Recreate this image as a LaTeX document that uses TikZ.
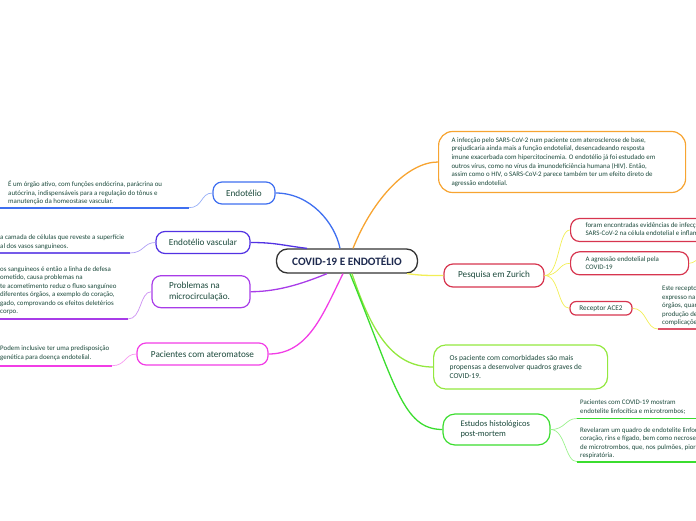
\documentclass[tikz,border=0pt]{standalone}
\usepackage{fontspec}
\setmainfont{Carlito}
\usepackage{xcolor}
\definecolor{textgreen}{HTML}{1C4A3C}
\definecolor{titlenavy}{HTML}{1E2A4F}
\definecolor{titleborder}{HTML}{333333}
\definecolor{mainblue}{HTML}{3F6FF0}
\definecolor{lightblue}{HTML}{96AEF7}
\definecolor{mainindigo}{HTML}{5232E3}
\definecolor{lightindigo}{HTML}{B0A0F5}
\definecolor{mainpurple}{HTML}{A83CE8}
\definecolor{lightpurple}{HTML}{CC90F2}
\definecolor{mainmagenta}{HTML}{F23DE6}
\definecolor{lightmagenta}{HTML}{F79AF0}
\definecolor{mainorange}{HTML}{F7A431}
\definecolor{mainred}{HTML}{D7354F}
\definecolor{mainyellow}{HTML}{F2EE55}
\definecolor{mainlime}{HTML}{93E83F}
\definecolor{maingreen}{HTML}{3BDD2F}
\definecolor{lightgreen}{HTML}{9CF28E}

\begin{document}
\begin{tikzpicture}[x=1pt, y=-1pt,
    topic/.style={draw, line width=1.2pt, rounded corners=9pt, fill=white, text=textgreen,
        font=\fontsize{9.2}{10.5}\selectfont, inner sep=0pt},
    leaf/.style={draw, line width=1.2pt, rounded corners=9pt, fill=white, text=textgreen,
        font=\fontsize{6.9}{8.3}\selectfont, align=flush left, anchor=west, inner ysep=0pt},
    note/.style={anchor=west, inner sep=0pt, text=textgreen,
        font=\fontsize{6.9}{8.5}\selectfont, align=left},
    branch/.style={line width=1.3pt},
    twig/.style={line width=0.7pt},
    underl/.style={line width=1.6pt}]

    \useasboundingbox (0,0) rectangle (696,520);
    \clip (0,0) rectangle (696,520);

    % central topic
    \node[topic, draw=titleborder, text=titlenavy, line width=1.3pt, rounded corners=11pt,
        font=\bfseries\fontsize{11.3}{13}\selectfont, minimum width=141pt, minimum height=24pt]
        (title) at (347,261) {COVID-19 E ENDOTÉLIO};

    % left branches
    \node[topic, draw=mainblue, minimum width=62pt, minimum height=22pt] (endotelio) at (244,193) {Endotélio};
    \node[topic, draw=mainindigo, minimum width=94pt, minimum height=22pt] (endvasc) at (203,242.5) {Endotélio vascular};
    \node[topic, draw=mainpurple, minimum height=32pt, inner xsep=17pt, text width=64pt, align=flush left]
        (micro) at (201,291.7) {Problemas na\\microcirculação.};
    \node[topic, draw=mainmagenta, minimum width=131pt, minimum height=22pt] (ateroma) at (202.5,354) {Pacientes com ateromatose};

    \node[note] (funcao) at (8,192.7) {É um órgão ativo, com funções endócrina, parácrina ou\\autócrina, indispensáveis para a regulação do tônus e\\manutenção da homeostase vascular.};
    \node[note] (camada) at (0,242) {a camada de células que reveste a superfície\\al dos vasos sanguíneos.};
    \node[note] (defesa) at (0,290.7) {os sanguíneos é então a linha de defesa\\ometido, causa problemas na\\te acometimento reduz o fluxo sanguíneo\\diferentes órgãos, a exemplo do coração,\\gado, comprovando os efeitos deletérios\\corpo.};
    \node[note] (predisp) at (0,353.3) {Podem inclusive ter uma predisposição\\genética para doença endotelial.};

    \coordinate (funcaoL) at (0,207.7);
    \coordinate (funcaoR) at (189,207.7);
    \coordinate (camadaL) at (0,253);
    \coordinate (camadaR) at (130,253);
    \coordinate (defesaL) at (0,319);
    \coordinate (defesaR) at (128,319);
    \coordinate (predispL) at (0,365.7);
    \coordinate (predispR) at (112,365.7);

    % right branches
    \node[leaf, draw=mainorange, rounded corners=14pt, inner xsep=13pt, text width=221pt, minimum height=61pt,
        font=\fontsize{6.9}{8.7}\selectfont] (infeccao) at (438,162)
        {A infecção pelo SARS-CoV-2 num paciente com aterosclerose de base,\\prejudicaria ainda mais a função endotelial, desencadeando resposta\\imune exacerbada com hipercitocinemia. O endotélio já foi estudado em\\outros vírus, como no vírus da imunodeficiência humana (HIV). Então,\\assim como o HIV, o SARS-CoV-2 parece também ter um efeito direto de\\agressão endotelial.};

    \node[topic, draw=mainred, minimum width=100pt, minimum height=23pt] (zurich) at (494,275.5) {Pesquisa em Zurich};
    \node[leaf, draw=mainred, inner xsep=15pt, minimum height=23pt, align=left] (evidencias) at (570,230)
        {foram encontradas evidências de infecção pelo\\SARS-CoV-2 na célula endotelial e inflamação};
    \node[leaf, draw=mainred, inner xsep=15pt, text width=88pt, minimum height=23pt] (agressao) at (570,263.3)
        {A agressão endotelial pela\\COVID-19};
    \node[topic, draw=mainred, font=\fontsize{7.2}{8}\selectfont, minimum width=62pt, minimum height=13.5pt,
        rounded corners=6pt] (receptor) at (601,308.3) {Receptor ACE2};
    \node[note] (expresso) at (662,306) {Este receptor\\expresso na\\órgãos, quando\\produção de\\complicações};
    \coordinate (expressoL) at (658,329);
    \coordinate (expressoR) at (700,329);
    \coordinate (agressaoT) at (700,259);

    \node[leaf, draw=mainlime, rounded corners=12pt, inner xsep=16pt, text width=142pt, minimum height=44pt,
        font=\fontsize{7.5}{8.6}\selectfont] (comorb) at (433,367)
        {Os paciente com comorbidades são mais\\propensas a desenvolver quadros graves de\\COVID-19.};

    \node[topic, draw=maingreen, inner xsep=17.5pt, text width=72pt, align=flush left, minimum height=31pt,
        rounded corners=12pt, font=\fontsize{8.5}{10}\selectfont] (estudos) at (496.5,429.5)
        {Estudos histológicos\\post-mortem};
    \node[note] (mostram) at (580,407) {Pacientes com COVID-19 mostram\\endotelite linfocítica e microtrombos;};
    \node[note] (revelaram) at (580,443.4) {Revelaram um quadro de endotelite linfocítica\\coração, rins e fígado, bem como necrose\\de microtrombos, que, nos pulmões, piora\\respiratória.};
    \coordinate (mostramL) at (577,418.5);
    \coordinate (mostramR) at (700,418.5);
    \coordinate (revelaramL) at (577,461.7);
    \coordinate (revelaramR) at (700,461.7);

    % connectors from the centre
    \draw[branch, mainblue] (endotelio.east) .. controls +(35,0) and +(-5,-25) .. ([xshift=-7pt]title.north);
    \draw[branch, mainindigo] (endvasc.east) .. controls +(25,0) and +(-25,-3) .. ([xshift=-40pt]title.north);
    \draw[branch, mainpurple] (micro.east) .. controls +(30,0) and +(-20,8) .. ([xshift=-20pt]title.south);
    \draw[branch, mainmagenta] (ateroma.east) .. controls +(40,0) and +(-20,40) .. ([xshift=-4pt]title.south);
    \draw[branch, mainorange] ([xshift=6pt]title.north) .. controls +(20,-50) and +(-30,0) .. (infeccao.west);
    \draw[branch, mainyellow] ([xshift=60pt]title.south) .. controls +(15,2) and +(-15,0) .. (zurich.west);
    \draw[branch, mainlime] ([xshift=5pt]title.south) .. controls +(20,60) and +(-40,0) .. (comorb.west);
    \draw[branch, maingreen] ([xshift=3pt]title.south) .. controls +(45,110) and +(-40,0) .. (estudos.west);

    % left notes
    \draw[twig, lightblue] (funcaoR) .. controls +(14,0) and +(-12,0) .. (endotelio.west);
    \draw[underl, mainblue] (funcaoL) -- (funcaoR);
    \draw[twig, lightindigo] (camadaR) .. controls +(14,0) and +(-12,0) .. (endvasc.west);
    \draw[underl, mainindigo!80] (camadaL) -- (camadaR);
    \draw[twig, lightpurple] (defesaR) .. controls +(14,0) and +(-12,0) .. (micro.west);
    \draw[underl, mainpurple] (defesaL) -- (defesaR);
    \draw[twig, lightmagenta] (predispR) .. controls +(14,0) and +(-12,0) .. (ateroma.west);
    \draw[underl, mainmagenta] (predispL) -- (predispR);

    % Zurich leaves
    \draw[twig, mainyellow] (zurich.east) .. controls +(15,0) and +(-12,0) .. (evidencias.west);
    \draw[twig, mainyellow] (zurich.east) .. controls +(15,0) and +(-12,0) .. (agressao.west);
    \draw[twig, mainyellow] (zurich.east) .. controls +(15,0) and +(-12,0) .. (receptor.west);
    \draw[twig, mainyellow] (agressao.east) .. controls +(5,0) and +(-4,0) .. (agressaoT);
    \draw[twig, mainyellow] (receptor.east) .. controls +(14,0) and +(-12,0) .. (expressoL);
    \draw[underl, mainred!85] (expressoL) -- (expressoR);

    % post-mortem leaves
    \draw[twig, lightgreen] (estudos.east) .. controls +(15,0) and +(-12,0) .. (mostramL);
    \draw[twig, lightgreen] (estudos.east) .. controls +(15,0) and +(-12,0) .. (revelaramL);
    \draw[underl, maingreen] (mostramL) -- (mostramR);
    \draw[underl, maingreen] (revelaramL) -- (revelaramR);
\end{tikzpicture}
\end{document}
